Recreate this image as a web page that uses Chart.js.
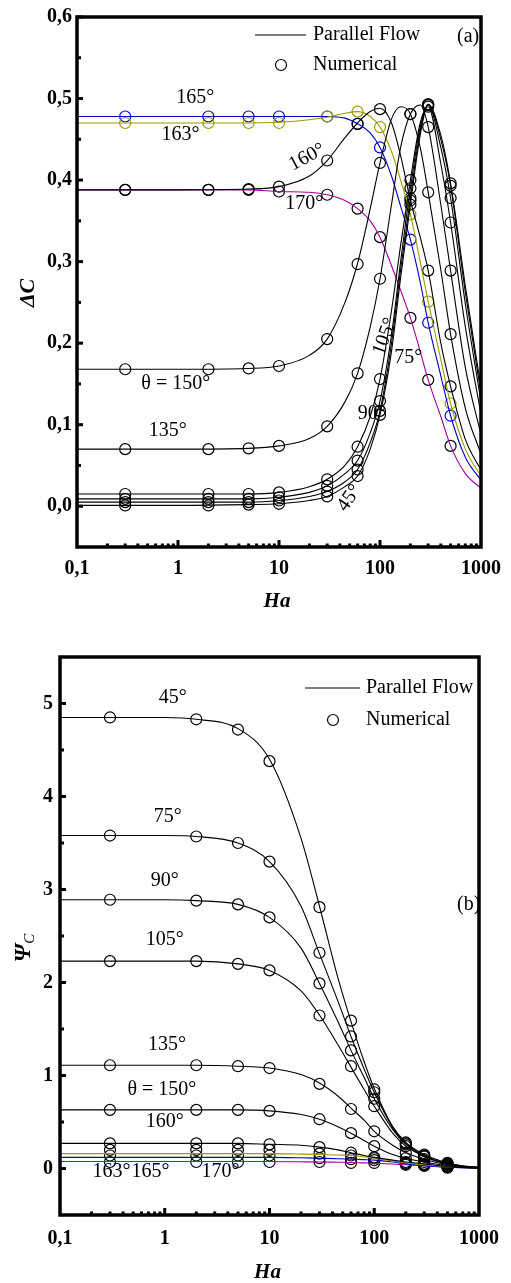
<!DOCTYPE html>
<html>
<head>
<meta charset="utf-8">
<script src="https://cdn.jsdelivr.net/npm/chart.js@4.4.1/dist/chart.umd.min.js"></script>
<style>
  body { margin: 0; background: #fff; }
  #wrap { position: relative; width: 511px; height: 1283px; }
  .box { position: absolute; left: 0; width: 511px; }
</style>
</head>
<body>
<div id="wrap">
  <div class="box" style="top:0;height:620px"><canvas id="chartA"></canvas></div>
  <div class="box" style="top:620px;height:663px"><canvas id="chartB"></canvas></div>
</div>
<script>
// ---- data ----
const xTicks = [0.1, 1, 10, 100, 1000];
const yTicksA = [0, 0.1, 0.2, 0.3, 0.4, 0.5, 0.6];
const yTicksB = [0, 1, 2, 3, 4, 5];

// Ha values of the numerical points (both panels)
const haNum = [0.3, 2, 5, 10, 30, 60, 100, 200, 300, 500];

// panel (a): Delta C, parallel flow curves
const haLineA = [0.1, 1, 5, 10, 20, 30, 45, 60, 80, 100, 130, 160, 200, 250, 300, 400, 500, 700, 1000];
const dcLine45  = [0.001, 0.001, 0.002, 0.003, 0.007, 0.012, 0.024, 0.037, 0.07, 0.112, 0.19, 0.28, 0.37, 0.455, 0.493, 0.455, 0.396, 0.27, 0.145];
const dcLine75  = [0.005, 0.005, 0.005, 0.007, 0.012, 0.018, 0.03, 0.045, 0.078, 0.117, 0.2, 0.29, 0.378, 0.46, 0.493, 0.45, 0.393, 0.262, 0.138];
const dcLine90  = [0.009, 0.009, 0.009, 0.011, 0.017, 0.025, 0.04, 0.056, 0.09, 0.129, 0.21, 0.3, 0.39, 0.465, 0.492, 0.44, 0.378, 0.248, 0.128];
const dcLine105 = [0.015, 0.015, 0.015, 0.017, 0.024, 0.033, 0.05, 0.073, 0.11, 0.156, 0.24, 0.32, 0.4, 0.47, 0.49, 0.42, 0.348, 0.22, 0.113];
const dcLine135 = [0.07, 0.07, 0.071, 0.074, 0.083, 0.098, 0.128, 0.163, 0.22, 0.279, 0.37, 0.44, 0.481, 0.492, 0.465, 0.37, 0.289, 0.17, 0.088];
const dcLine150 = [0.168, 0.168, 0.169, 0.172, 0.185, 0.205, 0.25, 0.298, 0.365, 0.421, 0.475, 0.49, 0.481, 0.44, 0.385, 0.29, 0.211, 0.12, 0.064];
const dcLine160 = [0.388, 0.388, 0.389, 0.392, 0.405, 0.424, 0.452, 0.47, 0.484, 0.488, 0.47, 0.43, 0.375, 0.33, 0.289, 0.2, 0.147, 0.082, 0.044];
const dcLine163 = [0.47, 0.47, 0.47, 0.471, 0.474, 0.477, 0.482, 0.484, 0.478, 0.465, 0.435, 0.4, 0.358, 0.3, 0.251, 0.18, 0.126, 0.07, 0.037];
const dcLine165 = [0.478, 0.478, 0.478, 0.478, 0.478, 0.478, 0.476, 0.469, 0.458, 0.44, 0.405, 0.368, 0.327, 0.275, 0.225, 0.16, 0.111, 0.06, 0.032];
const dcLine170 = [0.388, 0.388, 0.388, 0.386, 0.385, 0.382, 0.375, 0.365, 0.35, 0.33, 0.295, 0.265, 0.231, 0.19, 0.155, 0.11, 0.074, 0.04, 0.022];

// panel (a): numerical
const dcNum45  = [0.001, 0.001, 0.002, 0.003, 0.012, 0.037, 0.112, 0.37, 0.493, 0.396];
const dcNum75  = [0.005, 0.005, 0.005, 0.007, 0.018, 0.045, 0.117, 0.378, 0.493, 0.393];
const dcNum90  = [0.009, 0.009, 0.009, 0.011, 0.025, 0.056, 0.129, 0.39, 0.492, 0.378];
const dcNum105 = [0.015, 0.015, 0.015, 0.017, 0.033, 0.073, 0.156, 0.4, 0.49, 0.348];
const dcNum135 = [0.07, 0.07, 0.071, 0.074, 0.098, 0.163, 0.279, 0.481, 0.465, 0.289];
const dcNum150 = [0.168, 0.168, 0.169, 0.172, 0.205, 0.297, 0.421, 0.481, 0.385, 0.211];
const dcNum160 = [0.388, 0.388, 0.389, 0.392, 0.424, 0.469, 0.487, 0.375, 0.289, 0.147];
const dcNum163 = [0.47, 0.47, 0.47, 0.47, 0.478, 0.484, 0.465, 0.358, 0.251, 0.126];
const dcNum165 = [0.478, 0.478, 0.478, 0.478, 0.478, 0.469, 0.44, 0.327, 0.225, 0.111];
const dcNum170 = [0.388, 0.388, 0.388, 0.386, 0.382, 0.365, 0.33, 0.231, 0.155, 0.074];

// panel (b): Psi_C, parallel flow curves
const haLineB = [0.1, 1, 2, 5, 10, 20, 30, 45, 60, 80, 100, 150, 200, 300, 500, 700, 1000];
const psiLine45  = [4.85, 4.85, 4.83, 4.73, 4.4, 3.55, 2.82, 2.05, 1.58, 1.15, 0.86, 0.45, 0.28, 0.15, 0.06, 0.03, 0.01];
const psiLine75  = [3.58, 3.58, 3.57, 3.5, 3.3, 2.82, 2.31, 1.8, 1.42, 1.07, 0.82, 0.44, 0.27, 0.14, 0.05, 0.025, 0.01];
const psiLine90  = [2.89, 2.89, 2.88, 2.84, 2.7, 2.37, 1.99, 1.58, 1.27, 0.98, 0.75, 0.42, 0.26, 0.13, 0.05, 0.025, 0.01];
const psiLine105 = [2.23, 2.23, 2.23, 2.2, 2.13, 1.91, 1.65, 1.33, 1.09, 0.85, 0.67, 0.38, 0.24, 0.13, 0.05, 0.025, 0.01];
const psiLine135 = [1.11, 1.11, 1.11, 1.1, 1.08, 1.01, 0.92, 0.78, 0.65, 0.52, 0.4, 0.25, 0.17, 0.1, 0.04, 0.02, 0.005];
const psiLine150 = [0.63, 0.63, 0.63, 0.63, 0.62, 0.58, 0.53, 0.45, 0.38, 0.3, 0.24, 0.15, 0.11, 0.07, 0.03, 0.015, 0.005];
const psiLine160 = [0.27, 0.27, 0.27, 0.27, 0.26, 0.25, 0.23, 0.2, 0.17, 0.14, 0.12, 0.09, 0.07, 0.05, 0.02, 0.01, 0.003];
const psiLine163 = [0.16, 0.16, 0.16, 0.16, 0.16, 0.155, 0.15, 0.145, 0.14, 0.125, 0.11, 0.08, 0.06, 0.04, 0.02, 0.01, 0.003];
const psiLine165 = [0.12, 0.12, 0.12, 0.12, 0.12, 0.115, 0.11, 0.105, 0.1, 0.095, 0.09, 0.07, 0.05, 0.03, 0.015, 0.008, 0.002];
const psiLine170 = [0.075, 0.075, 0.075, 0.075, 0.075, 0.072, 0.07, 0.067, 0.065, 0.06, 0.057, 0.048, 0.04, 0.03, 0.015, 0.008, 0.002];

// panel (b): numerical
const psiNum45  = [4.85, 4.83, 4.72, 4.38, 2.81, 1.59, 0.85, 0.28, 0.15, 0.06];
const psiNum75  = [3.58, 3.57, 3.5, 3.3, 2.32, 1.42, 0.82, 0.27, 0.14, 0.05];
const psiNum90  = [2.89, 2.88, 2.84, 2.7, 1.99, 1.27, 0.75, 0.26, 0.13, 0.05];
const psiNum105 = [2.23, 2.23, 2.2, 2.13, 1.645, 1.1, 0.67, 0.24, 0.13, 0.05];
const psiNum135 = [1.11, 1.11, 1.1, 1.08, 0.91, 0.64, 0.4, 0.17, 0.1, 0.04];
const psiNum150 = [0.63, 0.63, 0.63, 0.62, 0.53, 0.38, 0.24, 0.11, 0.07, 0.03];
const psiNum160 = [0.27, 0.27, 0.27, 0.26, 0.23, 0.17, 0.12, 0.07, 0.05, 0.02];
const psiNum163 = [0.2, 0.2, 0.2, 0.2, 0.16, 0.14, 0.11, 0.06, 0.04, 0.02];
const psiNum165 = [0.14, 0.14, 0.14, 0.14, 0.11, 0.1, 0.09, 0.05, 0.03, 0.015];
const psiNum170 = [0.07, 0.07, 0.07, 0.07, 0.07, 0.06, 0.06, 0.04, 0.03, 0.01];

// angle labels: [text, Ha, value, rotation in degrees]
const notesA = [
  ['165°', 1.48, 0.501, 0], ['163°', 1.06, 0.455, 0], ['160°', 19, 0.428, -28],
  ['170°', 17.8, 0.371, 0], ['θ = 150°', 0.95, 0.15, 0], ['135°', 0.79, 0.092, 0],
  ['105°', 112, 0.208, -70], ['75°', 190, 0.182, 0], ['90°', 83, 0.113, 0], ['45°', 50, 0.01, -55]
];
const notesB = [
  ['45°', 1.19, 5.06, 0], ['75°', 1.07, 3.78, 0], ['90°', 1.0, 3.09, 0], ['105°', 1.0, 2.46, 0],
  ['135°', 1.05, 1.33, 0], ['θ = 150°', 0.94, 0.85, 0], ['160°', 1.0, 0.5, 0],
  ['163°', 0.31, -0.03, 0], ['165°', 0.73, -0.03, 0], ['170°', 3.4, -0.03, 0]
];

const OLIVE = '#9c9c00', BLUE = '#0000c8', PURPLE = '#a000a0';
const serif = 'Liberation Serif, Times New Roman, serif';

function pts(xs, ys) { return xs.map((x, i) => ({ x: x, y: ys[i] })); }
function lineSet(ys, xs, color) {
  return { data: pts(xs, ys), showLine: true, borderColor: color, borderWidth: 1.1,
           pointRadius: 0, cubicInterpolationMode: 'monotone', fill: false };
}
function dotSet(ys, color) {
  return { data: pts(haNum, ys), showLine: false, borderColor: color, backgroundColor: 'rgba(0,0,0,0)',
           pointRadius: 5.5, borderWidth: 1.2 };
}

function line(ctx, x1, y1, x2, y2) { ctx.beginPath(); ctx.moveTo(x1, y1); ctx.lineTo(x2, y2); ctx.stroke(); }

// frame, inward ticks, legend, labels
const framePlugin = {
  id: 'frame',
  afterDraw(chart, args, o) {
    const ctx = chart.ctx, a = chart.chartArea, xs = chart.scales.x, ys = chart.scales.y;
    ctx.save();
    ctx.strokeStyle = '#000';
    ctx.lineWidth = 3;
    o.yTicks.forEach(v => { const y = ys.getPixelForValue(v); line(ctx, a.left, y, a.left + 6, y); });
    o.yMinor.forEach(v => { const y = ys.getPixelForValue(v); line(ctx, a.left, y, a.left + 4, y); });
    [1, 10, 100].forEach(v => { const x = xs.getPixelForValue(v); line(ctx, x, a.bottom, x, a.bottom - 7); });
    [0.1, 1, 10, 100].forEach(d => {
      for (let k = 2; k <= 9; k++) { const x = xs.getPixelForValue(d * k); line(ctx, x, a.bottom, x, a.bottom - 3.5); }
    });
    ctx.lineWidth = 3.5;
    ctx.strokeRect(a.left, a.top, a.right - a.left, a.bottom - a.top);

    // legend
    const L = o.legend;
    ctx.lineWidth = 1.1;
    line(ctx, L.x1, L.y1, L.x2, L.y1);
    ctx.lineWidth = 1.2;
    ctx.beginPath(); ctx.arc(L.cx, L.y2, 5.5, 0, Math.PI * 2); ctx.stroke();
    ctx.fillStyle = '#000';
    ctx.font = '20px ' + serif;
    ctx.textBaseline = 'middle';
    ctx.textAlign = 'left';
    ctx.fillText('Parallel Flow', L.tx, L.y1);
    ctx.fillText('Numerical', L.tx, L.y2);
    ctx.fillText(o.tag[0], o.tag[1], o.tag[2]);

    // angle labels
    ctx.textAlign = 'center';
    o.notes.forEach(n => {
      ctx.save();
      ctx.translate(xs.getPixelForValue(n[1]), ys.getPixelForValue(n[2]));
      ctx.rotate(n[3] * Math.PI / 180);
      ctx.fillText(n[0], 0, 0);
      ctx.restore();
    });

    // axis titles
    ctx.font = 'italic bold 21px ' + serif;
    ctx.fillText('Ha', (a.left + a.right) / 2 - 2, o.xTitleY);
    ctx.save();
    ctx.translate(o.yTitle[0], o.yTitle[1]);
    ctx.rotate(-Math.PI / 2);
    if (o.sub) {
      ctx.textAlign = 'left';
      ctx.font = 'italic bold 23px ' + serif;
      const w = ctx.measureText(o.yText).width;
      ctx.fillText(o.yText, -w / 2 - 5, 0);
      ctx.font = 'italic 15px ' + serif;
      ctx.fillText(o.sub, w / 2 - 5, 6);
    } else {
      ctx.font = 'italic bold 22px ' + serif;
      ctx.fillText(o.yText, 0, 0);
    }
    ctx.restore();
    ctx.restore();
  }
};

function axes(yMin, yMax, yTicks, yWidth, xHeight, xPad, yPad, yFmt) {
  const tickFont = { family: serif, size: 20, weight: 'bold' };
  return {
    x: {
      type: 'logarithmic', min: 0.1, max: 1000,
      grid: { display: false, drawTicks: false }, border: { display: false },
      afterBuildTicks: s => { s.ticks = xTicks.map(v => ({ value: v })); },
      afterFit: s => { s.height = xHeight; },
      ticks: { padding: xPad, color: '#000', font: tickFont, maxRotation: 0, autoSkip: false,
               callback: v => String(v).replace('.', ',') }
    },
    y: {
      type: 'linear', min: yMin, max: yMax,
      grid: { display: false, drawTicks: false }, border: { display: false },
      afterBuildTicks: s => { s.ticks = yTicks.map(v => ({ value: v })); },
      afterFit: s => { s.width = yWidth; },
      ticks: { padding: yPad, color: '#000', font: tickFont, callback: yFmt }
    }
  };
}

const common = {
  responsive: true, maintainAspectRatio: false, animation: false,
  events: []
};

new Chart(document.getElementById('chartA'), {
  type: 'scatter',
  data: {
    datasets: [
      lineSet(dcLine45, haLineA, '#000'), lineSet(dcLine75, haLineA, '#000'),
      lineSet(dcLine90, haLineA, '#000'), lineSet(dcLine105, haLineA, '#000'),
      lineSet(dcLine135, haLineA, '#000'), lineSet(dcLine150, haLineA, '#000'),
      lineSet(dcLine160, haLineA, '#000'), lineSet(dcLine170, haLineA, PURPLE),
      lineSet(dcLine163, haLineA, OLIVE), lineSet(dcLine165, haLineA, BLUE),
      dotSet(dcNum45, '#000'), dotSet(dcNum75, '#000'), dotSet(dcNum90, '#000'),
      dotSet(dcNum105, '#000'), dotSet(dcNum135, '#000'), dotSet(dcNum150, '#000'),
      dotSet(dcNum160, '#000'), dotSet(dcNum170, '#000'),
      dotSet(dcNum163, OLIVE), dotSet(dcNum165, BLUE)
    ]
  },
  options: Object.assign({}, common, {
    layout: { padding: { top: 15, right: 20, left: 0, bottom: 0 } },
    plugins: {
      legend: { display: false }, tooltip: { enabled: false },
      frame: {
        yTicks: yTicksA, yMinor: [0.05, 0.15, 0.25, 0.35, 0.45, 0.55],
        legend: { x1: 255, x2: 306, y1: 35, cx: 281, y2: 65, tx: 313 },
        tag: ['(a)', 457, 37], notes: notesA,
        xTitleY: 602, yTitle: [28, 293], yText: 'ΔC'
      }
    },
    scales: axes(-0.05, 0.6, yTicksA, 77, 73, 10, 5, v => v.toFixed(1).replace('.', ','))
  }),
  plugins: [framePlugin]
});

new Chart(document.getElementById('chartB'), {
  type: 'scatter',
  data: {
    datasets: [
      lineSet(psiLine45, haLineB, '#000'), lineSet(psiLine75, haLineB, '#000'),
      lineSet(psiLine90, haLineB, '#000'), lineSet(psiLine105, haLineB, '#000'),
      lineSet(psiLine135, haLineB, '#000'), lineSet(psiLine150, haLineB, '#000'),
      lineSet(psiLine160, haLineB, '#000'), lineSet(psiLine163, haLineB, OLIVE),
      lineSet(psiLine165, haLineB, BLUE), lineSet(psiLine170, haLineB, PURPLE),
      dotSet(psiNum45, '#000'), dotSet(psiNum75, '#000'), dotSet(psiNum90, '#000'),
      dotSet(psiNum105, '#000'), dotSet(psiNum135, '#000'), dotSet(psiNum150, '#000'),
      dotSet(psiNum160, '#000'), dotSet(psiNum163, '#000'), dotSet(psiNum165, '#000'),
      dotSet(psiNum170, '#000')
    ]
  },
  options: Object.assign({}, common, {
    layout: { padding: { top: 37, right: 20, left: 0, bottom: 0 } },
    plugins: {
      legend: { display: false }, tooltip: { enabled: false },
      frame: {
        yTicks: yTicksB, yMinor: [0.5, 1.5, 2.5, 3.5, 4.5],
        legend: { x1: 305, x2: 360, y1: 68, cx: 333, y2: 100, tx: 366 },
        tag: ['(b)', 457, 285], notes: notesB,
        xTitleY: 653, yTitle: [24, 328], yText: 'Ψ', sub: 'C'
      }
    },
    scales: axes(-0.5, 5.5, yTicksB, 60, 68, 12, 7, v => String(v))
  }),
  plugins: [framePlugin]
});
</script>
</body>
</html>
